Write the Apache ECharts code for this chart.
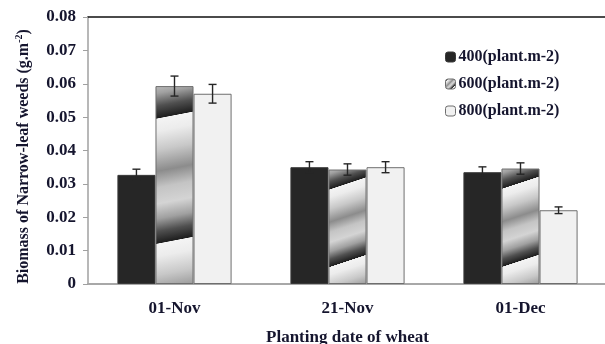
<!DOCTYPE html>
<html>
<head>
<meta charset="utf-8">
<script src="https://cdn.jsdelivr.net/npm/echarts@6/dist/echarts.min.js"></script>
<style>
  html, body { margin: 0; padding: 0; background: #ffffff; overflow: hidden; }
  #chart { width: 605px; height: 344px; }
</style>
</head>
<body>
<div id="chart"></div>
<script>
// Planting dates and the three wheat densities
const categories = ['01-Nov', '21-Nov', '01-Dec'];
const seriesNames = ['400(plant.m-2)', '600(plant.m-2)', '800(plant.m-2)'];

// Biomass of narrow-leaf weeds (g.m-2)
const biomass400 = [0.0327, 0.0350, 0.0335];
const biomass600 = [0.0593, 0.0343, 0.0346];
const biomass800 = [0.0570, 0.0350, 0.0221];

// Standard errors
const err400 = [0.0017, 0.00165, 0.0016];
const err600 = [0.0030, 0.0017, 0.0017];
const err800 = [0.0028, 0.00165, 0.0010];

const yTicks = { min: 0, max: 0.08, interval: 0.01 };

const FONT = '"Liberation Serif", "DejaVu Serif", serif';
const TEXT = '#15152e';
const BAR_FRACTION = 0.22;

// Shaded wave fill for the middle density, stretched over each bar
const waveFill = {
  type: 'linear', x: 0, y: 0, x2: 1, y2: 1,
  colorStops: [
    { offset: 0.000, color: '#bbbbbb' },
    { offset: 0.038, color: '#a0a0a0' },
    { offset: 0.099, color: '#505050' },
    { offset: 0.158, color: '#1e1e1e' },
    { offset: 0.161, color: '#f4f4f4' },
    { offset: 0.222, color: '#ececec' },
    { offset: 0.314, color: '#c8c8c8' },
    { offset: 0.417, color: '#8c8c8c' },
    { offset: 0.497, color: '#c4c4c4' },
    { offset: 0.576, color: '#d4d4d4' },
    { offset: 0.649, color: '#a0a0a0' },
    { offset: 0.710, color: '#505050' },
    { offset: 0.768, color: '#1e1e1e' },
    { offset: 0.771, color: '#f4f4f4' },
    { offset: 0.832, color: '#ececec' },
    { offset: 0.923, color: '#c8c8c8' },
    { offset: 1.000, color: '#9b9b9b' }
  ]
};

const values = [biomass400, biomass600, biomass800];
const errors = [err400, err600, err800];
const fills = ['#262626', waveFill, '#f1f1f1'];
const borders = ['#3a3a3a', '#6e6e6e', '#6e6e6e'];

function errorSeries(k) {
  const data = categories.map((c, i) => [i, values[k][i], errors[k][i]]);
  return {
    type: 'custom',
    name: seriesNames[k] + ' SE',
    z: 5,
    silent: true,
    data: data,
    renderItem: function (params, api) {
      const i = api.value(0);
      const v = api.value(1);
      const e = api.value(2);
      const band = api.size([1, 0])[0];
      const dx = (k - 1) * band * BAR_FRACTION;
      const top = api.coord([i, v + e]);
      const bot = api.coord([i, v - e]);
      const x = top[0] + dx;
      const cap = 4;
      const style = { stroke: '#262626', lineWidth: 1.4, fill: null };
      return {
        type: 'group',
        children: [
          { type: 'line', shape: { x1: x, y1: top[1], x2: x, y2: bot[1] }, style: style },
          { type: 'line', shape: { x1: x - cap, y1: top[1], x2: x + cap, y2: top[1] }, style: style },
          { type: 'line', shape: { x1: x - cap, y1: bot[1], x2: x + cap, y2: bot[1] }, style: style }
        ]
      };
    }
  };
}

const barSeries = seriesNames.map((name, k) => ({
  type: 'bar',
  name: name,
  data: values[k],
  barWidth: (BAR_FRACTION * 100) + '%',
  barGap: '0%',
  itemStyle: { color: fills[k], borderColor: borders[k], borderWidth: 1 }
}));

const chart = echarts.init(document.getElementById('chart'), null, { renderer: 'canvas', width: 605, height: 344 });
chart.setOption({
  animation: false,
  backgroundColor: '#ffffff',
  grid: { left: 88, width: 519, top: 17, height: 267, containLabel: false, outerBoundsMode: 'none' },
  legend: {
    orient: 'vertical',
    left: 440,
    top: 44,
    itemWidth: 10,
    itemHeight: 10,
    itemGap: 11,
    data: seriesNames,
    textStyle: { fontFamily: FONT, fontWeight: 'bold', fontSize: 16, color: TEXT, lineHeight: 16, padding: [0, 0, 0, -2] },
    itemStyle: { borderWidth: 1 }
  },
  xAxis: [{
    type: 'category',
    data: categories,
    position: 'bottom',
    axisLine: { lineStyle: { color: '#a8a8a8', width: 2 } },
    axisTick: { show: false },
    axisLabel: { fontFamily: FONT, fontWeight: 'bold', fontSize: 17, color: TEXT, margin: 16 },
    name: 'Planting date of wheat',
    nameLocation: 'middle',
    nameGap: 45,
    nameTextStyle: { fontFamily: FONT, fontWeight: 'bold', fontSize: 17, color: TEXT }
  }, {
    type: 'category',
    data: categories,
    position: 'top',
    axisLine: { lineStyle: { color: '#111111', width: 1.5 } },
    axisTick: { show: false },
    axisLabel: { show: false }
  }],
  yAxis: {
    type: 'value',
    min: yTicks.min,
    max: yTicks.max,
    interval: yTicks.interval,
    axisLine: { show: true, lineStyle: { color: '#a0a0a0', width: 1.5 } },
    axisTick: { show: true, length: 5, lineStyle: { color: '#a0a0a0' } },
    splitLine: { show: false },
    axisLabel: {
      fontFamily: FONT, fontWeight: 'bold', fontSize: 17, color: TEXT, margin: 12,
      formatter: v => (v === 0 ? '0' : v.toFixed(2))
    },
    name: '{t|Biomass of Narrow-leaf weeds (g.m}{s|-2}{t|)}',
    nameLocation: 'middle',
    nameGap: 56,
    nameRotate: 90,
    nameTextStyle: {
      padding: [0, 12, 0, 0],
      rich: {
        t: { fontFamily: FONT, fontWeight: 'bold', fontSize: 16, color: TEXT, verticalAlign: 'bottom', lineHeight: 18 },
        s: { fontFamily: FONT, fontWeight: 'bold', fontSize: 10, color: TEXT, verticalAlign: 'top', lineHeight: 18 }
      }
    }
  },
  series: barSeries.concat([errorSeries(0), errorSeries(1), errorSeries(2)])
});
</script>
</body>
</html>
